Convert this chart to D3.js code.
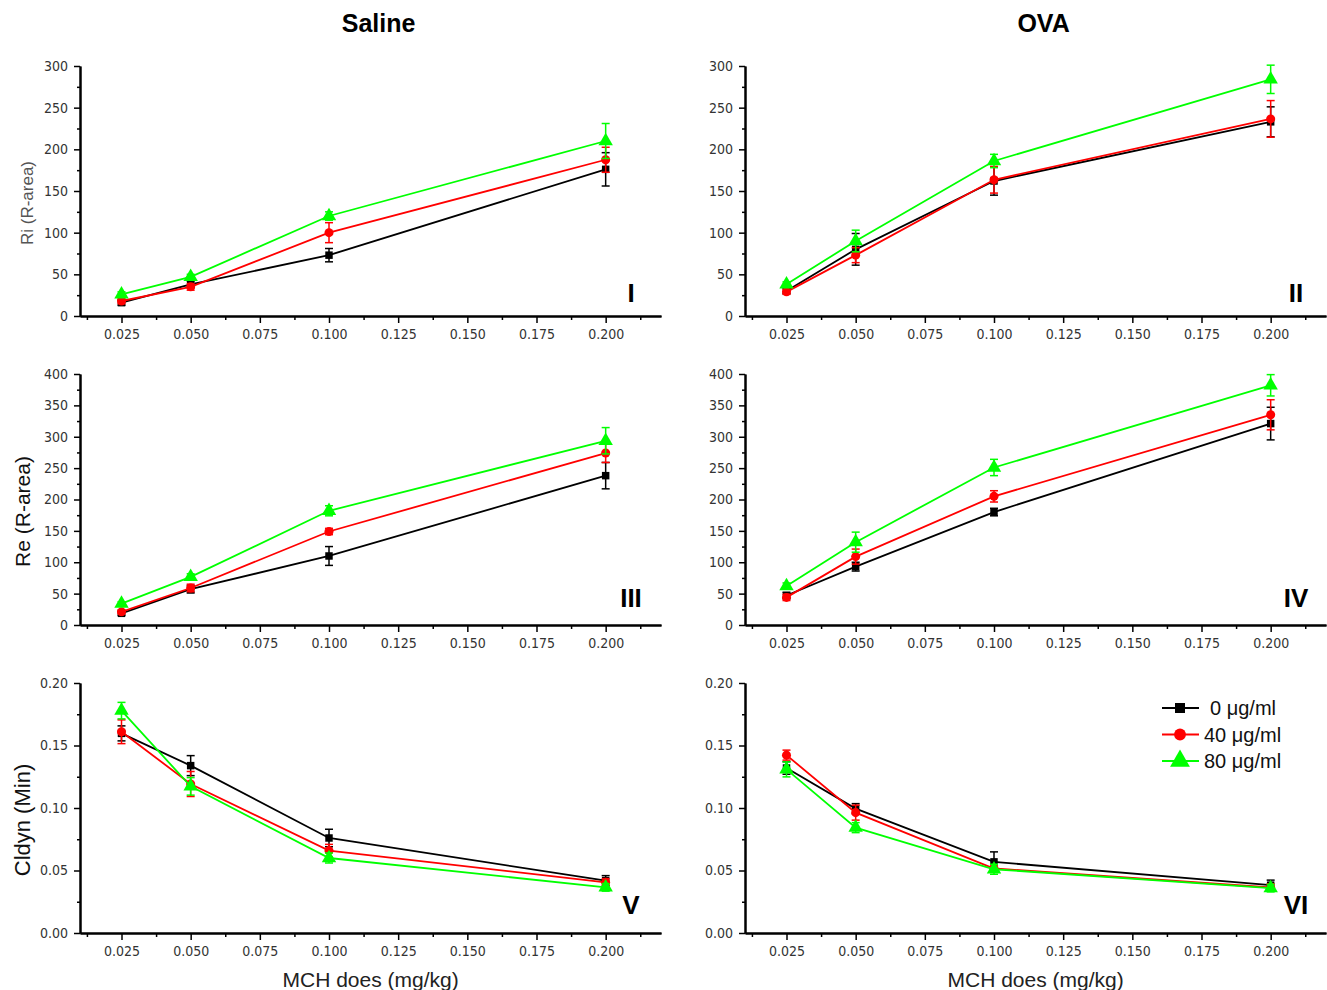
<!DOCTYPE html>
<html>
<head>
<meta charset="utf-8">
<script src="https://cdn.jsdelivr.net/npm/d3@7/dist/d3.min.js"></script>
<style>
  html, body { margin: 0; padding: 0; background: #fff; }
  svg { display: block; }
  .tick-label { font-family: "Liberation Sans Narrow", "Arial Narrow", "DejaVu Sans Condensed", sans-serif; font-size: 14px; fill: #333; }
</style>
</head>
<body>
<svg id="chart" width="1327" height="990"></svg>
<script>
// ---------------- data ----------------
const doses = [0.025, 0.05, 0.1, 0.2];
const xTickValues = [0.025, 0.05, 0.075, 0.1, 0.125, 0.15, 0.175, 0.2];
const seriesNames = ["0 \u03bcg/ml", "40 \u03bcg/ml", "80 \u03bcg/ml"];
const columnTitles = ["Saline", "OVA"];
const panelNumerals = ["I", "II", "III", "IV", "V", "VI"];
const yLabels = ["Ri (R-area)", "Re (R-area)", "Cldyn (Min)"];
const xLabel = "MCH does (mg/kg)";

const riTicks = [0, 50, 100, 150, 200, 250, 300];
const reTicks = [0, 50, 100, 150, 200, 250, 300, 350, 400];
const cdTicks = [0, 0.05, 0.10, 0.15, 0.20];

// Saline Ri
const riSaline0  = [16, 38, 73, 176];     const riSaline0Err  = [3, 4, 8, 20];
const riSaline40 = [18, 35, 100, 187.5];  const riSaline40Err = [3, 4, 12, 15];
const riSaline80 = [26, 47, 120, 210];    const riSaline80Err = [3, 3, 5, 21];
// OVA Ri
const riOva0  = [30, 80, 162, 233];       const riOva0Err  = [3, 19, 17, 18];
const riOva40 = [29, 73, 163.5, 236.5];   const riOva40Err = [3, 9, 16, 22];
const riOva80 = [38, 90, 186, 284];       const riOva80Err = [3, 13, 8, 17];
// Saline Re
const reSaline0  = [18.6, 57, 110, 238];  const reSaline0Err  = [3, 6, 15, 21];
const reSaline40 = [21, 59, 149, 274];    const reSaline40Err = [3, 6, 5, 15];
const reSaline80 = [34, 76.6, 182, 293.6];const reSaline80Err = [3, 5, 8, 21];
// OVA Re
const reOva0  = [47, 93, 180, 321];       const reOva0Err  = [5, 7, 6, 26];
const reOva40 = [44, 109, 205, 335];      const reOva40Err = [5, 12, 9, 24];
const reOva80 = [62, 132, 251, 382];      const reOva80Err = [5, 16, 13, 17];
// Saline Cldyn
const cdSaline0  = [0.1597, 0.1339, 0.076, 0.0419];  const cdSaline0Err  = [0.006, 0.008, 0.007, 0.004];
const cdSaline40 = [0.161, 0.1192, 0.0659, 0.0405];  const cdSaline40Err = [0.0095, 0.01, 0.005, 0.003];
const cdSaline80 = [0.1779, 0.1173, 0.060, 0.0365];  const cdSaline80Err = [0.0066, 0.007, 0.004, 0.003];
// OVA Cldyn
const cdOva0  = [0.132, 0.0995, 0.0569, 0.0383];     const cdOva0Err  = [0.005, 0.004, 0.008, 0.004];
const cdOva40 = [0.1423, 0.0963, 0.0516, 0.0364];    const cdOva40Err = [0.004, 0.006, 0.003, 0.003];
const cdOva80 = [0.1309, 0.0843, 0.051, 0.0359];     const cdOva80Err = [0.006, 0.004, 0.004, 0.003];

// ---------------- styles / layout ----------------
const colors = ["#000000", "#ff0000", "#00ff00"];
const symbols = [d3.symbolSquare, d3.symbolCircle, d3.symbolTriangle];
const symbolSizes = [56, 64, 90];
const legendSymbolSizes = [100, 110, 170];

const colRanges = [[80, 661], [745, 1326]];
const rowRanges = [[316, 66], [625, 374], [933, 683]];
const numeralOffsets = [14, 18, 19];
const xDomain = [0.01, 0.22];

const panels = [
  { row: 0, col: 0, ticks: riTicks, fmt: d3.format("d"),   series: [[riSaline0, riSaline0Err], [riSaline40, riSaline40Err], [riSaline80, riSaline80Err]] },
  { row: 0, col: 1, ticks: riTicks, fmt: d3.format("d"),   series: [[riOva0, riOva0Err], [riOva40, riOva40Err], [riOva80, riOva80Err]] },
  { row: 1, col: 0, ticks: reTicks, fmt: d3.format("d"),   series: [[reSaline0, reSaline0Err], [reSaline40, reSaline40Err], [reSaline80, reSaline80Err]] },
  { row: 1, col: 1, ticks: reTicks, fmt: d3.format("d"),   series: [[reOva0, reOva0Err], [reOva40, reOva40Err], [reOva80, reOva80Err]] },
  { row: 2, col: 0, ticks: cdTicks, fmt: d3.format(".2f"), series: [[cdSaline0, cdSaline0Err], [cdSaline40, cdSaline40Err], [cdSaline80, cdSaline80Err]] },
  { row: 2, col: 1, ticks: cdTicks, fmt: d3.format(".2f"), series: [[cdOva0, cdOva0Err], [cdOva40, cdOva40Err], [cdOva80, cdOva80Err]] },
];

const svg = d3.select("#chart");

panels.forEach((p, pi) => {
  const x = d3.scaleLinear().domain(xDomain).range(colRanges[p.col]);
  const y = d3.scaleLinear().domain([p.ticks[0], p.ticks[p.ticks.length - 1]]).range(rowRanges[p.row]);
  const g = svg.append("g");
  const step = p.ticks[1] - p.ticks[0];

  // x axis: minor ticks
  const xMinor = xTickValues.map(v => v - 0.0125).concat([0.2125]);
  const xAxisY = y.range()[0];
  const xAxisMinor = d3.axisBottom(x).tickValues(xMinor).tickSize(4).tickSizeOuter(0).tickFormat("");
  const xAxis = d3.axisBottom(x).tickValues(xTickValues).tickSize(7).tickSizeOuter(0).tickPadding(6).tickFormat(d3.format(".3f"));
  const gxm = g.append("g").attr("transform", `translate(0,${xAxisY})`).call(xAxisMinor);
  const gx = g.append("g").attr("transform", `translate(0,${xAxisY})`).call(xAxis);
  [gx, gxm].forEach(a => {
    a.select(".domain").attr("stroke", "#000").attr("stroke-width", 2);
    a.selectAll(".tick line").attr("stroke", "#000").attr("stroke-width", 1.5);
  });
  gx.selectAll(".tick text").attr("class", "tick-label").attr("dy", "0.72em");

  // y axis
  const yMinor = p.ticks.slice(0, -1).map(v => v + step / 2);
  const xAxisX = x.range()[0];
  const yAxisMinor = d3.axisLeft(y).tickValues(yMinor).tickSize(3).tickSizeOuter(0).tickFormat("");
  const yAxis = d3.axisLeft(y).tickValues(p.ticks).tickSize(6).tickSizeOuter(0).tickPadding(6).tickFormat(p.fmt);
  const gym = g.append("g").attr("transform", `translate(${xAxisX},0)`).call(yAxisMinor);
  const gy = g.append("g").attr("transform", `translate(${xAxisX},0)`).call(yAxis);
  [gy, gym].forEach(a => {
    a.select(".domain").attr("stroke", "#000").attr("stroke-width", 2);
    a.selectAll(".tick line").attr("stroke", "#000").attr("stroke-width", 1.5);
  });
  gy.selectAll(".tick text").attr("class", "tick-label");

  // series
  const line = d3.line().x((d, i) => x(doses[i])).y(d => y(d));
  p.series.forEach(([vals, errs], si) => {
    const c = colors[si];
    const sg = g.append("g");
    vals.forEach((v, i) => {
      const cx = x(doses[i]);
      const y1 = y(v - errs[i]), y2 = y(v + errs[i]);
      sg.append("line").attr("x1", cx).attr("x2", cx).attr("y1", y1).attr("y2", y2)
        .attr("stroke", c).attr("stroke-width", 1.5);
      [y1, y2].forEach(yy => sg.append("line").attr("x1", cx - 4).attr("x2", cx + 4).attr("y1", yy).attr("y2", yy)
        .attr("stroke", c).attr("stroke-width", 1.5));
    });
    sg.append("path").datum(vals).attr("d", line).attr("fill", "none")
      .attr("stroke", c).attr("stroke-width", 1.8);
    sg.selectAll("path.mk").data(vals).enter().append("path").attr("class", "mk")
      .attr("d", d3.symbol().type(symbols[si]).size(symbolSizes[si]))
      .attr("transform", (d, i) => `translate(${x(doses[i])},${y(d)})`)
      .attr("fill", c);
  });

  // panel numeral
  g.append("text").attr("x", x.range()[1] - 30).attr("y", y(p.ticks[0]) - numeralOffsets[p.row])
    .attr("text-anchor", "middle")
    .style("font-family", "'Liberation Sans', Arial, sans-serif").style("font-weight", "bold")
    .style("font-size", "26px").text(panelNumerals[pi]);

  // y label
  if (p.col === 0) {
    const midY = (y.range()[0] + y.range()[1]) / 2 + 12;
    const small = p.row === 0;
    g.append("text")
      .attr("transform", `translate(${small ? 27 : 22},${midY}) rotate(-90)`)
      .attr("text-anchor", "middle").attr("dominant-baseline", "central")
      .style("font-family", small ? "'Liberation Sans Narrow', 'Liberation Sans', sans-serif" : "'Liberation Sans', Arial, sans-serif")
      .style("font-size", small ? "17px" : (p.row === 1 ? "21px" : "22px"))
      .style("fill", small ? "#555" : "#111")
      .text(yLabels[p.row]);
  }

  // x label on bottom row
  if (p.row === 2) {
    const cx = (x(0.025) + x(0.2)) / 2 + 7;
    g.append("text").attr("x", cx).attr("y", 987).attr("text-anchor", "middle")
      .style("font-family", "'Liberation Sans', Arial, sans-serif").style("font-size", "21px").style("fill", "#222")
      .text(xLabel);
  }

  // column title
  if (p.row === 0) {
    const cx = (x(0.025) + x(0.2)) / 2 + 15;
    g.append("text").attr("x", cx).attr("y", 32).attr("text-anchor", "middle")
      .style("font-family", "'Liberation Sans', Arial, sans-serif").style("font-weight", "bold").style("font-size", "25px")
      .text(columnTitles[p.col]);
  }

  // legend in last panel
  if (pi === 5) {
    const lg = g.append("g");
    const legY = d3.scaleLinear().domain([0, 1]).range([708, 734.5]);
    seriesNames.forEach((name, si) => {
      const yy = legY(si);
      lg.append("line").attr("x1", 1162).attr("x2", 1199).attr("y1", yy).attr("y2", yy)
        .attr("stroke", colors[si]).attr("stroke-width", 2);
      lg.append("path").attr("d", d3.symbol().type(symbols[si]).size(legendSymbolSizes[si])())
        .attr("transform", `translate(1180,${yy})`).attr("fill", colors[si]);
      lg.append("text").attr("x", si === 0 ? 1210 : 1204).attr("y", yy).attr("dominant-baseline", "central")
        .style("font-family", "'Liberation Sans', Arial, sans-serif").style("font-size", "20px").style("fill", "#111")
        .text(name);
    });
  }
});
</script>
</body>
</html>
